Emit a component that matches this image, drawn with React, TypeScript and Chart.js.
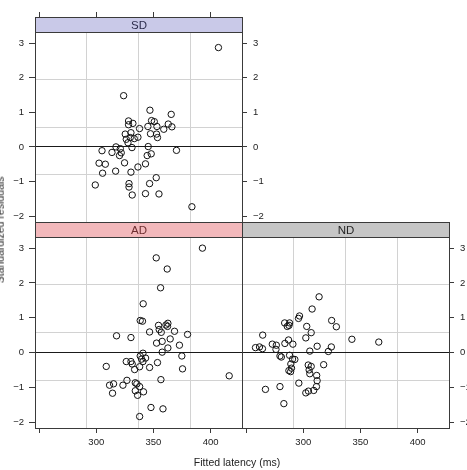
import { useEffect, useRef } from "react";
import { Chart, registerables } from "chart.js";

Chart.register(...registerables);

const PAGE_W = 467;
const PAGE_H = 470;
const FONT = '"Liberation Sans", Arial, Helvetica, sans-serif';

// Shared scales of the trellis
const X_MIN = 246.4;
const X_MAX = 427.4;
const Y_MIN = -2.17;
const Y_MAX = 3.32;

const X_TICKS = [250, 300, 350, 400];
const X_TICK_LABELS = ["", "300", "350", "400"];
const Y_TICKS = [-2, -1, 0, 1, 2, 3];
const Y_TICK_LABELS = ["\u22122", "\u22121", "0", "1", "2", "3"];

const X_TITLE = "Fitted latency (ms)";
const Y_TITLE = "Standardized residuals";

// Group SD
const SD_LATENCY = [
  323.9, 346.9, 365.5, 328.2, 332.0, 328.2, 348.3, 350.7, 337.8, 345.1,
  353.0, 362.9, 366.1, 359.0, 325.3, 330.3, 347.4, 352.7, 353.5, 329.7,
  333.2, 326.2, 336.4, 327.7, 331.2, 345.4, 317.2, 321.0, 305.0, 313.7,
  321.8, 320.3, 348.0, 344.5, 370.1, 302.4, 307.9, 324.7, 343.0, 336.4,
  305.5, 316.9, 330.3, 352.4, 299.1, 328.6, 328.6, 346.6, 331.4, 343.0,
  354.8, 406.8, 383.6,
];
const SD_RESIDUAL = [
  1.48, 1.06, 0.94, 0.75, 0.68, 0.64, 0.76, 0.73, 0.53, 0.59,
  0.59, 0.66, 0.58, 0.51, 0.37, 0.41, 0.38, 0.37, 0.27, 0.27,
  0.24, 0.22, 0.28, 0.12, -0.02, 0.01, 0.0, -0.05, -0.11, -0.16,
  -0.17, -0.25, -0.2, -0.25, -0.1, -0.47, -0.5, -0.46, -0.49, -0.58,
  -0.76, -0.7, -0.73, -0.89, -1.1, -1.06, -1.16, -1.06, -1.39, -1.35,
  -1.36, 2.87, -1.73,
];

// Group AD
const AD_LATENCY = [
  392.8, 352.4, 362.0, 356.2, 341.0, 338.4, 340.4, 317.7, 330.3, 346.6,
  354.4, 355.0, 356.8, 360.9, 362.6, 362.3, 368.4, 379.8, 352.7, 357.6,
  364.6, 372.7, 362.6, 357.6, 374.8, 375.4, 416.2, 353.5, 346.6, 356.5,
  340.8, 338.4, 343.1, 339.6, 340.8, 337.9, 333.5, 326.2, 330.3, 331.4,
  308.7, 326.8, 311.6, 315.1, 323.3, 334.1, 335.5, 337.9, 314.2, 334.1,
  341.3, 336.1, 347.8, 358.3, 337.9,
];
const AD_RESIDUAL = [
  3.0, 2.72, 2.4, 1.86, 1.4, 0.92, 0.9, 0.48, 0.43, 0.59,
  0.78, 0.66, 0.58, 0.79, 0.84, 0.75, 0.61, 0.52, 0.27, 0.32,
  0.39, 0.21, 0.13, 0.01, -0.1, -0.47, -0.67, -0.29, -0.43, -0.78,
  -0.02, -0.1, -0.16, -0.19, -0.26, -0.41, -0.49, -0.26, -0.26, -0.33,
  -0.4, -0.8, -0.94, -0.9, -0.94, -0.87, -0.9, -0.98, -1.17, -1.1,
  -1.13, -1.23, -1.58, -1.62, -1.84,
];

// Group ND
const ND_LATENCY = [
  313.8, 307.7, 296.7, 295.8, 324.8, 328.9, 303.0, 283.7, 288.0, 286.0,
  287.5, 306.9, 302.2, 264.5, 342.5, 366.0, 287.1, 283.9, 272.9, 276.4,
  290.9, 312.1, 324.5, 258.2, 261.7, 264.3, 276.1, 305.7, 321.9, 288.0,
  279.6, 280.8, 290.6, 292.6, 289.1, 289.7, 287.4, 288.9, 304.3, 306.9,
  305.1, 305.7, 317.8, 311.7, 312.1, 296.1, 279.6, 266.9, 311.5, 309.1,
  304.5, 302.2, 283.0,
];
const ND_RESIDUAL = [
  1.6, 1.25, 1.05, 0.98, 0.92, 0.74, 0.75, 0.85, 0.85, 0.75,
  0.78, 0.57, 0.42, 0.5, 0.38, 0.3, 0.36, 0.26, 0.24, 0.21,
  0.24, 0.18, 0.16, 0.14, 0.16, 0.11, 0.09, 0.04, 0.03, -0.08,
  -0.1, -0.13, -0.19, -0.2, -0.33, -0.45, -0.52, -0.55, -0.36, -0.4,
  -0.5, -0.61, -0.35, -0.66, -0.81, -0.88, -0.98, -1.06, -0.98, -1.09,
  -1.11, -1.16, -1.47,
];

const GRID = "#d2d2d2";
const AXIS = "#3a3a3a";
const ZERO = "#1a1a1a";
const TEXT = "#222222";
const STRIP_H = 15;

type Panel = {
  label: string;
  latency: number[];
  residual: number[];
  fill: string;
  ink: string;
  left: number;
  top: number;
  right: number;
  bottom: number;
  xSide: "top" | "bottom";
  yLeft: boolean;
  yRight: boolean;
};

const PANELS: Panel[] = [
  {
    label: "SD", latency: SD_LATENCY, residual: SD_RESIDUAL,
    fill: "#c9c9e8", ink: "#2c2c4c",
    left: 35, top: 32, right: 242, bottom: 222,
    xSide: "top", yLeft: true, yRight: true,
  },
  {
    label: "AD", latency: AD_LATENCY, residual: AD_RESIDUAL,
    fill: "#f2b8bb", ink: "#6e2e30",
    left: 35, top: 237, right: 242, bottom: 428,
    xSide: "bottom", yLeft: true, yRight: false,
  },
  {
    label: "ND", latency: ND_LATENCY, residual: ND_RESIDUAL,
    fill: "#c6c6c6", ink: "#262626",
    left: 242, top: 237, right: 449, bottom: 428,
    xSide: "bottom", yLeft: false, yRight: true,
  },
];

const quarters = (lo: number, hi: number) => [1, 2, 3].map((k) => lo + ((hi - lo) * k) / 4);
const fixTicks = (vals: number[]) => (s: any) => {
  s.ticks = vals.map((v) => ({ value: v }));
};

// Strip above the panel plus the panel frame
const panelStrip = {
  id: "panelStrip",
  afterDraw(chart: any, _args: any, opts: any) {
    const { ctx, chartArea: a } = chart;
    const l = Math.round(a.left) + 0.5;
    const r = Math.round(a.right) + 0.5;
    const t = Math.round(a.top) + 0.5;
    const b = Math.round(a.bottom) + 0.5;
    ctx.save();
    ctx.fillStyle = opts.fill;
    ctx.fillRect(l, t - STRIP_H, r - l, STRIP_H);
    ctx.lineWidth = 1;
    ctx.strokeStyle = AXIS;
    ctx.strokeRect(l, t - STRIP_H, r - l, STRIP_H);
    ctx.strokeRect(l, t, r - l, b - t);
    ctx.fillStyle = opts.ink;
    ctx.font = `11.5px ${FONT}`;
    ctx.textAlign = "center";
    ctx.textBaseline = "middle";
    ctx.fillText(opts.label, (l + r) / 2, t - STRIP_H / 2 + 0.5);
    ctx.restore();
  },
};

function buildConfig(p: Panel): any {
  const tickFont = { family: FONT, size: 9.5 };
  const xBottom = p.xSide === "bottom";
  const scales: any = {};

  scales.x = {
    type: "linear",
    position: p.xSide,
    min: X_MIN,
    max: X_MAX,
    afterBuildTicks: fixTicks(X_TICKS),
    afterFit: (s: any) => {
      s.height = xBottom ? PAGE_H - p.bottom : p.top;
    },
    grid: {
      drawOnChartArea: false,
      drawTicks: true,
      tickLength: xBottom ? 5 : STRIP_H + 5,
      tickColor: AXIS,
      tickWidth: 1,
    },
    border: { display: false },
    ticks: {
      display: xBottom,
      padding: 4,
      font: tickFont,
      color: TEXT,
      maxRotation: 0,
      autoSkip: false,
      callback: (_v: any, i: number) => X_TICK_LABELS[i],
    },
  };

  // light reference grid dividing the panel in quarters
  scales.xg = {
    type: "linear",
    position: xBottom ? "top" : "bottom",
    min: X_MIN,
    max: X_MAX,
    afterBuildTicks: fixTicks(quarters(X_MIN, X_MAX)),
    afterFit: (s: any) => {
      s.height = xBottom ? p.top : PAGE_H - p.bottom;
    },
    grid: { color: GRID, lineWidth: 1, drawTicks: false },
    border: { display: false },
    ticks: { display: false },
  };

  const yAxis = (side: "left" | "right", carriesZero: boolean) => ({
    type: "linear",
    position: side,
    min: Y_MIN,
    max: Y_MAX,
    afterBuildTicks: fixTicks(Y_TICKS),
    afterFit: (s: any) => {
      s.width = side === "left" ? p.left : PAGE_W - p.right;
    },
    grid: {
      drawOnChartArea: carriesZero,
      color: (c: any) => (c.tick && c.tick.value === 0 ? ZERO : "rgba(0,0,0,0)"),
      lineWidth: 1,
      drawTicks: true,
      tickLength: side === "left" ? 6 : 5,
      tickColor: AXIS,
      tickWidth: 1,
    },
    border: { display: false },
    ticks: {
      padding: side === "left" ? 5 : 6,
      font: tickFont,
      color: TEXT,
      autoSkip: false,
      callback: (_v: any, i: number) => Y_TICK_LABELS[i],
    },
  });

  if (p.yLeft && p.yRight) {
    scales.y = yAxis("left", true);
    scales.y2 = yAxis("right", false);
  } else if (p.yLeft) {
    scales.y = yAxis("left", true);
  } else {
    scales.y = yAxis("right", true);
  }

  const gridSide = p.yLeft && p.yRight ? "left" : p.yLeft ? "right" : "left";
  scales.yg = {
    type: "linear",
    position: gridSide,
    min: Y_MIN,
    max: Y_MAX,
    afterBuildTicks: fixTicks(quarters(Y_MIN, Y_MAX)),
    afterFit: (s: any) => {
      if (p.yLeft && p.yRight) s.width = 0;
      else s.width = gridSide === "left" ? p.left : PAGE_W - p.right;
    },
    grid: { color: GRID, lineWidth: 1, drawTicks: false },
    border: { display: false },
    ticks: { display: false },
  };

  return {
    type: "scatter",
    data: {
      datasets: [
        {
          label: p.label,
          data: p.latency.map((x, i) => ({ x, y: p.residual[i] })),
          xAxisID: "x",
          yAxisID: "y",
          pointStyle: "circle",
          pointRadius: 3.2,
          pointBorderWidth: 1,
          borderColor: "#111111",
          backgroundColor: "rgba(0,0,0,0)",
          pointHoverRadius: 3.2,
        },
      ],
    },
    options: {
      responsive: false,
      animation: false,
      events: [],
      layout: { padding: 0 },
      scales,
      plugins: {
        legend: { display: false },
        tooltip: { enabled: false },
        panelStrip: { label: p.label, fill: p.fill, ink: p.ink },
      },
    },
    plugins: [panelStrip],
  };
}

function PanelCanvas({ panel }: { panel: Panel }) {
  const ref = useRef<HTMLCanvasElement | null>(null);
  useEffect(() => {
    if (!ref.current) return;
    const chart = new Chart(ref.current, buildConfig(panel));
    return () => chart.destroy();
  }, [panel]);
  return (
    <canvas
      ref={ref}
      width={PAGE_W}
      height={PAGE_H}
      style={{ position: "absolute", left: 0, top: 0, width: PAGE_W, height: PAGE_H }}
    />
  );
}

export default function App() {
  return (
    <div
      style={{
        position: "fixed",
        left: 0,
        top: 0,
        width: PAGE_W,
        height: PAGE_H,
        overflow: "hidden",
        background: "#ffffff",
        fontFamily: FONT,
        color: TEXT,
      }}
    >
      {PANELS.map((p) => (
        <PanelCanvas key={p.label} panel={p} />
      ))}
      <div
        style={{
          position: "absolute",
          left: 237,
          top: 457,
          transform: "translateX(-50%)",
          fontSize: 10.5,
          lineHeight: 1,
          whiteSpace: "nowrap",
        }}
      >
        {X_TITLE}
      </div>
      <div
        style={{
          position: "absolute",
          left: 0,
          top: 230,
          transform: "translate(-50%, -50%) rotate(-90deg)",
          fontSize: 10.5,
          lineHeight: 1,
          whiteSpace: "nowrap",
        }}
      >
        {Y_TITLE}
      </div>
    </div>
  );
}
